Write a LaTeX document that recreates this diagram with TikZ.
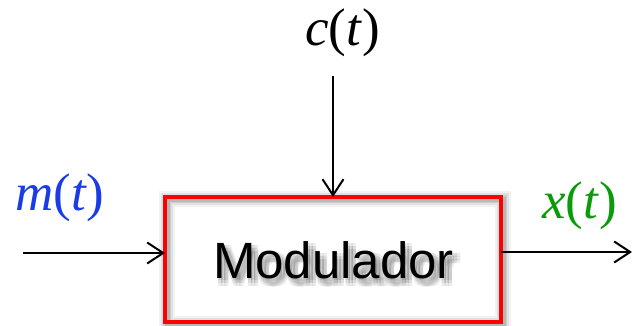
\documentclass[tikz,border=0pt]{standalone}
\usepackage{fontspec}
\setmainfont{Liberation Serif}
\newfontfamily\arialf{Liberation Sans}
\usetikzlibrary{arrows.meta}
\definecolor{sigblue}{RGB}{25,60,230}
\definecolor{siggreen}{RGB}{10,155,10}
\definecolor{boxred}{RGB}{255,0,0}
\tikzset{
  sig/.style={inner sep=0pt, font=\fontsize{53}{60}\selectfont},
  conn/.style={line width=2pt, -{Straight Barb[length=16pt,width=21pt,line width=2pt]}},
  blockbox/.style={draw=boxred, line width=4pt, minimum width=336pt, minimum height=125pt, inner sep=0pt, outer sep=0pt},
  blocktext/.style={inner sep=0pt, font=\arialf\fontsize{51}{60}\selectfont},
}
\begin{document}
\begin{tikzpicture}[x=1pt,y=1pt]
\useasboundingbox (0,0) rectangle (632,325);
% box shadow
\foreach \w/\o in {16/0.05,12/0.07,8/0.09,5/0.1}{
  \draw[line width=\w pt, black, opacity=\o] (167,1) rectangle (503,126);
}
% text shadow (blurred)
\foreach \dx in {0,3,6}{
  \foreach \dy in {-6,-3,0}{
    \node[blocktext, anchor=base, text=black, opacity=0.07] at (335+\dx,45+\dy) {Modulador};
  }
}
\node[blockbox] (box) at (333,65.5) {};
\node[blocktext, anchor=base] (lbl) at (333.5,47) {Modulador};
\node[sig, anchor=base west, text=sigblue] (m) at (15,115) {\textit{m}(\textit{t})};
\node[sig, anchor=base west, text=black] (c) at (305,280) {\textit{c}(\textit{t})};
\node[sig, anchor=base west, text=siggreen] (x) at (542,107) {\textit{x}(\textit{t})};
\coordinate (in) at (23,72);
\coordinate (cin) at (333,249);
\coordinate (out) at (632,73);
\draw[conn] (in) -- (in -| box.west);
\draw[conn] (cin) -- (box.north);
\draw[conn] (out -| box.east) -- (out);
\end{tikzpicture}
\end{document}
